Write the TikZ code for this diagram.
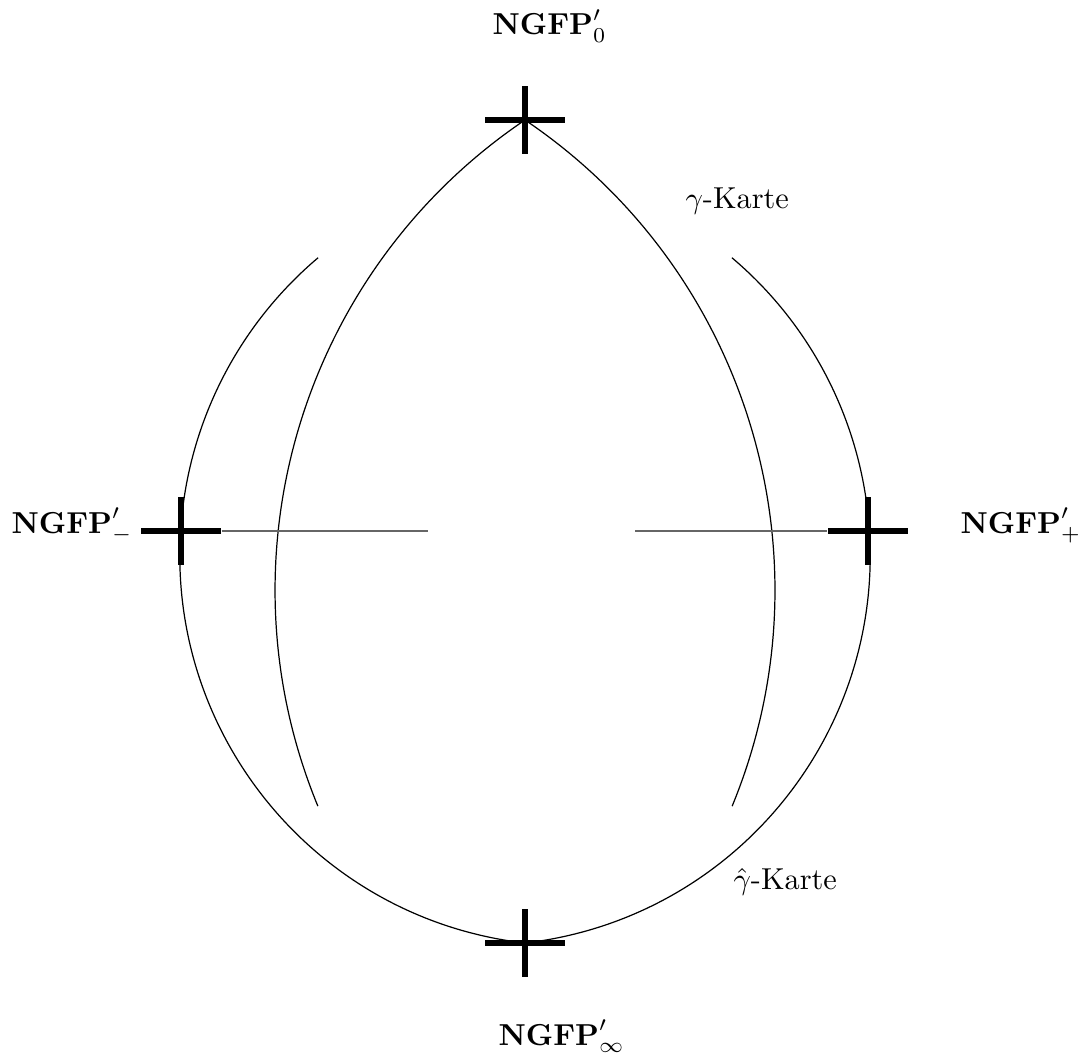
\documentclass[tikz,border=0pt]{standalone}

\begin{document}
\begin{tikzpicture}[
  x=0.33pt, y=0.33pt,
  font=\normalsize,
  fp/.style={inner sep=0pt,minimum width=26.4pt,minimum height=22.4pt,
    path picture={\draw[line width=2pt] (path picture bounding box.west) -- (path picture bounding box.east)
                                        (path picture bounding box.north) -- (path picture bounding box.south);}},
  orbit/.style={line width=0.4pt},
  axis/.style={line width=0.5pt,black!60},
  lbl/.style={anchor=base west,inner sep=0pt}
]
\useasboundingbox (0,0) rectangle (1085,1057);
% fixed points
\node[fp] (fp0) at (525,937) {};
\node[fp] (fpm) at (181,526) {};
\node[fp] (fpp) at (868,526) {};
\node[fp] (fpi) at (525,114) {};
\node[lbl] (l0) at (492,1022) {$\mathbf{NGFP}'_0$};
\node[lbl] (lm) at (11,524) {$\mathbf{NGFP}'_-$};
\node[lbl] (lp) at (960,524) {$\mathbf{NGFP}'_+$};
\node[lbl] (li) at (498,12) {$\mathbf{NGFP}'_\infty$};
\node[lbl] (kg) at (685,848) {$\gamma$-Karte};
\node[lbl] (kh) at (733,168) {$\hat\gamma$-Karte};
% trajectories
\draw[orbit] (fp0.center) arc[start angle=124, end angle=202.4, radius=567];
\draw[orbit] (fp0.center) arc[start angle=56, end angle=-22.4, radius=567];
\draw[orbit] (fpi.center) arc[start angle=263.4, end angle=130.2, radius=390];
\draw[orbit] (fpi.center) arc[start angle=276.6, end angle=409.8, radius=390];
\coordinate (ml) at (428,526);
\coordinate (mr) at (635,526);
\draw[axis] (fpm.east) -- (ml);
\draw[axis] (mr) -- (fpp.west);
\end{tikzpicture}
\end{document}
